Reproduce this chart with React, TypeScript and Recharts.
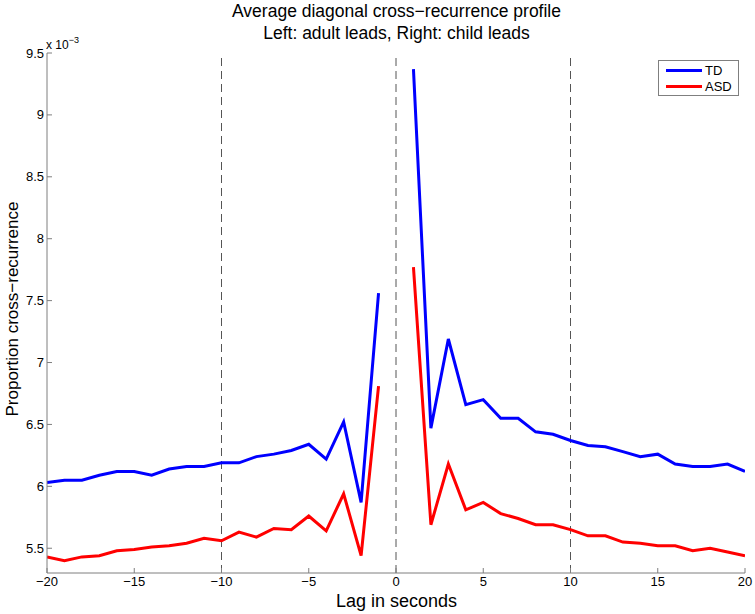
import React from 'react';
import { LineChart, Line, XAxis, YAxis, ReferenceLine } from 'recharts';

// values in units of 1e-3
const lags = [
  -20, -19, -18, -17, -16, -15, -14, -13, -12, -11, -10, -9, -8, -7, -6, -5, -4, -3, -2, -1,
  0,
  1, 2, 3, 4, 5, 6, 7, 8, 9, 10, 11, 12, 13, 14, 15, 16, 17, 18, 19, 20,
];
const tdValues = [
  6.03, 6.05, 6.05, 6.09, 6.12, 6.12, 6.09, 6.14, 6.16, 6.16, 6.19, 6.19, 6.24, 6.26, 6.29, 6.34, 6.22, 6.52, 5.87, 7.56,
  null,
  9.37, 6.47, 7.19, 6.66, 6.7, 6.55, 6.55, 6.44, 6.42, 6.37, 6.33, 6.32, 6.28, 6.24, 6.26, 6.18, 6.16, 6.16, 6.18, 6.12,
];
const asdValues = [
  5.43, 5.4, 5.43, 5.44, 5.48, 5.49, 5.51, 5.52, 5.54, 5.58, 5.56, 5.63, 5.59, 5.66, 5.65, 5.76, 5.64, 5.94, 5.44, 6.81,
  null,
  7.77, 5.69, 6.18, 5.81, 5.87, 5.78, 5.74, 5.69, 5.69, 5.65, 5.6, 5.6, 5.55, 5.54, 5.52, 5.52, 5.48, 5.5, 5.47, 5.44,
];
const xTicks = [-20, -15, -10, -5, 0, 5, 10, 15, 20];
const yTicks = [5.5, 6, 6.5, 7, 7.5, 8, 8.5, 9, 9.5];
const dashedLags = [-10, 0, 10];
const legendItems = [
  { name: 'TD', color: '#0000ff' },
  { name: 'ASD', color: '#ff0000' },
];

const FONT = '"Liberation Sans", Arial, Helvetica, sans-serif';
const AXIS = '#7f7f7f';

const fmt = (v: number) => (v < 0 ? '\u2212' + Math.abs(v) : String(v));

const BottomTick = (props: any) => {
  const { x, y, payload } = props;
  return (
    <g>
      <line x1={x} x2={x} y1={y} y2={y - 5} stroke={AXIS} />
      <text x={x} y={y + 13} textAnchor="middle" fontSize={13} fontFamily={FONT} fill="#000">
        {fmt(payload.value)}
      </text>
    </g>
  );
};

const TopTick = (props: any) => {
  const { x, y } = props;
  return <line x1={x} x2={x} y1={y} y2={y + 5} stroke={AXIS} />;
};

const LeftTick = (props: any) => {
  const { x, y, payload } = props;
  return (
    <g>
      <line x1={x} x2={x + 5} y1={y} y2={y} stroke={AXIS} />
      <text x={x - 3} y={y + 4.5} textAnchor="end" fontSize={13} fontFamily={FONT} fill="#000">
        {fmt(payload.value)}
      </text>
    </g>
  );
};

const RightTick = (props: any) => {
  const { x, y } = props;
  return <line x1={x} x2={x - 5} y1={y} y2={y} stroke={AXIS} />;
};

export default function App() {
  const data = lags.map((lag, i) => ({ lag, td: tdValues[i], asd: asdValues[i] }));

  return (
    <div style={{ position: 'absolute', left: 0, top: 0, width: 755, height: 614, background: '#fff', fontFamily: FONT }}>
      <LineChart
        width={755}
        height={614}
        data={data}
        margin={{ top: 53, right: 10, bottom: 0, left: 0 }}
        style={{ position: 'absolute', left: 0, top: 0 }}
      >
        <XAxis
          dataKey="lag"
          type="number"
          domain={[-20, 20]}
          ticks={xTicks}
          tickSize={0}
          tickMargin={0}
          height={41}
          axisLine={{ stroke: AXIS }}
          tickLine={false}
          tick={<BottomTick />}
          interval={0}
          allowDataOverflow
        />
        <XAxis
          xAxisId="top"
          dataKey="lag"
          type="number"
          orientation="top"
          domain={[-20, 20]}
          ticks={xTicks}
          tickSize={0}
          tickMargin={0}
          height={0}
          axisLine={{ stroke: AXIS }}
          tickLine={false}
          tick={<TopTick />}
          interval={0}
        />
        <YAxis
          type="number"
          domain={[5.3, 9.5]}
          ticks={yTicks}
          tickSize={0}
          tickMargin={0}
          width={47}
          axisLine={{ stroke: AXIS }}
          tickLine={false}
          tick={<LeftTick />}
          interval={0}
          allowDataOverflow
        />
        <YAxis
          yAxisId="right"
          orientation="right"
          type="number"
          domain={[5.3, 9.5]}
          ticks={yTicks}
          tickSize={0}
          tickMargin={0}
          width={0}
          axisLine={{ stroke: AXIS }}
          tickLine={false}
          tick={<RightTick />}
          interval={0}
        />
        {dashedLags.map((v) => (
          <ReferenceLine key={v} x={v} stroke="#555" strokeDasharray="8 5" strokeWidth={1} />
        ))}
        <Line
          type="linear"
          dataKey="td"
          name="TD"
          stroke="#0000ff"
          strokeWidth={3}
          dot={false}
          connectNulls={false}
          isAnimationActive={false}
        />
        <Line
          type="linear"
          dataKey="asd"
          name="ASD"
          stroke="#ff0000"
          strokeWidth={3}
          dot={false}
          connectNulls={false}
          isAnimationActive={false}
        />
      </LineChart>
      <div style={{ position: 'absolute', left: 0, width: 793, top: 0, textAlign: 'center', fontSize: 17.5, lineHeight: '22px', color: '#000' }}>
        Average diagonal cross{'\u2212'}recurrence profile
        <br />
        Left: adult leads, Right: child leads
      </div>
      <div style={{ position: 'absolute', left: 46, top: 38, fontSize: 12, color: '#000' }}>
        x 10<sup style={{ fontSize: 9, verticalAlign: 6, lineHeight: 0 }}>{'\u2212'}3</sup>
      </div>
      <div
        style={{
          position: 'absolute',
          left: 13,
          top: 309,
          transform: 'translate(-50%, -50%) rotate(-90deg)',
          whiteSpace: 'nowrap',
          fontSize: 17,
          color: '#000',
        }}
      >
        Proportion cross{'\u2212'}recurrence
      </div>
      <div style={{ position: 'absolute', left: 0, width: 793, top: 592, textAlign: 'center', fontSize: 18, lineHeight: '19px', color: '#000' }}>
        Lag in seconds
      </div>
      <div
        style={{
          position: 'absolute',
          left: 658,
          top: 60,
          width: 81,
          height: 36,
          border: `1px solid ${AXIS}`,
          background: '#fff',
          fontSize: 13,
          boxSizing: 'border-box',
          paddingTop: 2,
        }}
      >
        {legendItems.map((it) => (
          <div key={it.name} style={{ display: 'flex', alignItems: 'center', height: 15.5 }}>
            <div style={{ width: 36, height: 3, background: it.color, marginLeft: 7, marginRight: 3 }} />
            <span>{it.name}</span>
          </div>
        ))}
      </div>
    </div>
  );
}
